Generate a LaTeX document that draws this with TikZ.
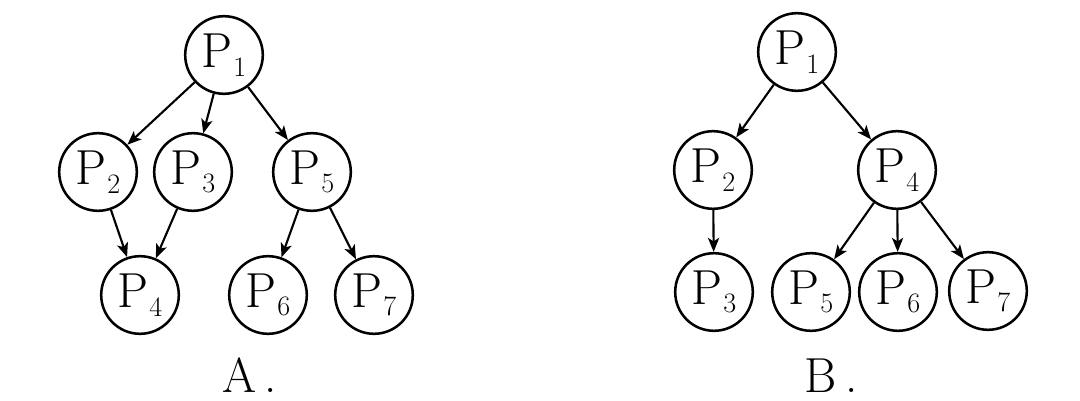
\documentclass[tikz,border=0pt]{standalone}
\usetikzlibrary{arrows.meta, positioning}
\newcommand{\procP}[1]{P\kern0.5pt\raisebox{-6pt}{\fontsize{20}{20}\selectfont #1}}

\begin{document}
\begin{tikzpicture}[
  x=0.025cm, y=-0.025cm,
  proc/.style={
    circle, draw=black, fill=white,
    line width=1.8pt, inner sep=0pt,
    minimum size=1.94cm,
    font=\fontsize{35}{37}\selectfont
  },
  lbl/.style={
    anchor=base, inner sep=0pt,
    font=\fontsize{35}{37}\selectfont
  },
  arr/.style={-{Stealth[length=10pt, width=8pt, inset=2.5pt]}, line width=1.5pt}
]
\useasboundingbox (0,0) rectangle (1080,401);

%% ═══ A ═══
\node[proc] (a1) at (224,55)  {\procP{1}};
\node[proc] (a2) at (98,172)  {\procP{2}};
\node[proc] (a3) at (193,172) {\procP{3}};
\node[proc] (a5) at (312,172) {\procP{5}};
\node[proc] (a4) at (140,295) {\procP{4}};
\node[proc] (a6) at (268,295) {\procP{6}};
\node[proc] (a7) at (374,295) {\procP{7}};
\node[lbl] (labA) at (250,392) {A\,.};

\draw[arr] (a1) -- (a2);
\draw[arr] (a1) -- (a3);
\draw[arr] (a1) -- (a5);
\draw[arr] (a2) -- (a4);
\draw[arr] (a3) -- (a4);
\draw[arr] (a5) -- (a6);
\draw[arr] (a5) -- (a7);

%% ═══ B ═══
\node[proc] (b1) at (797,52)  {\procP{1}};
\node[proc] (b2) at (713,170) {\procP{2}};
\node[proc] (b4) at (897,170) {\procP{4}};
\node[proc] (b3) at (714,292) {\procP{3}};
\node[proc] (b5) at (811,292) {\procP{5}};
\node[proc] (b6) at (898,292) {\procP{6}};
\node[proc] (b7) at (988,291) {\procP{7}};
\node[lbl] (labB) at (831,392) {B\,.};

\draw[arr] (b1) -- (b2);
\draw[arr] (b1) -- (b4);
\draw[arr] (b2) -- (b3);
\draw[arr] (b4) -- (b5);
\draw[arr] (b4) -- (b6);
\draw[arr] (b4) -- (b7);

\end{tikzpicture}
\end{document}
